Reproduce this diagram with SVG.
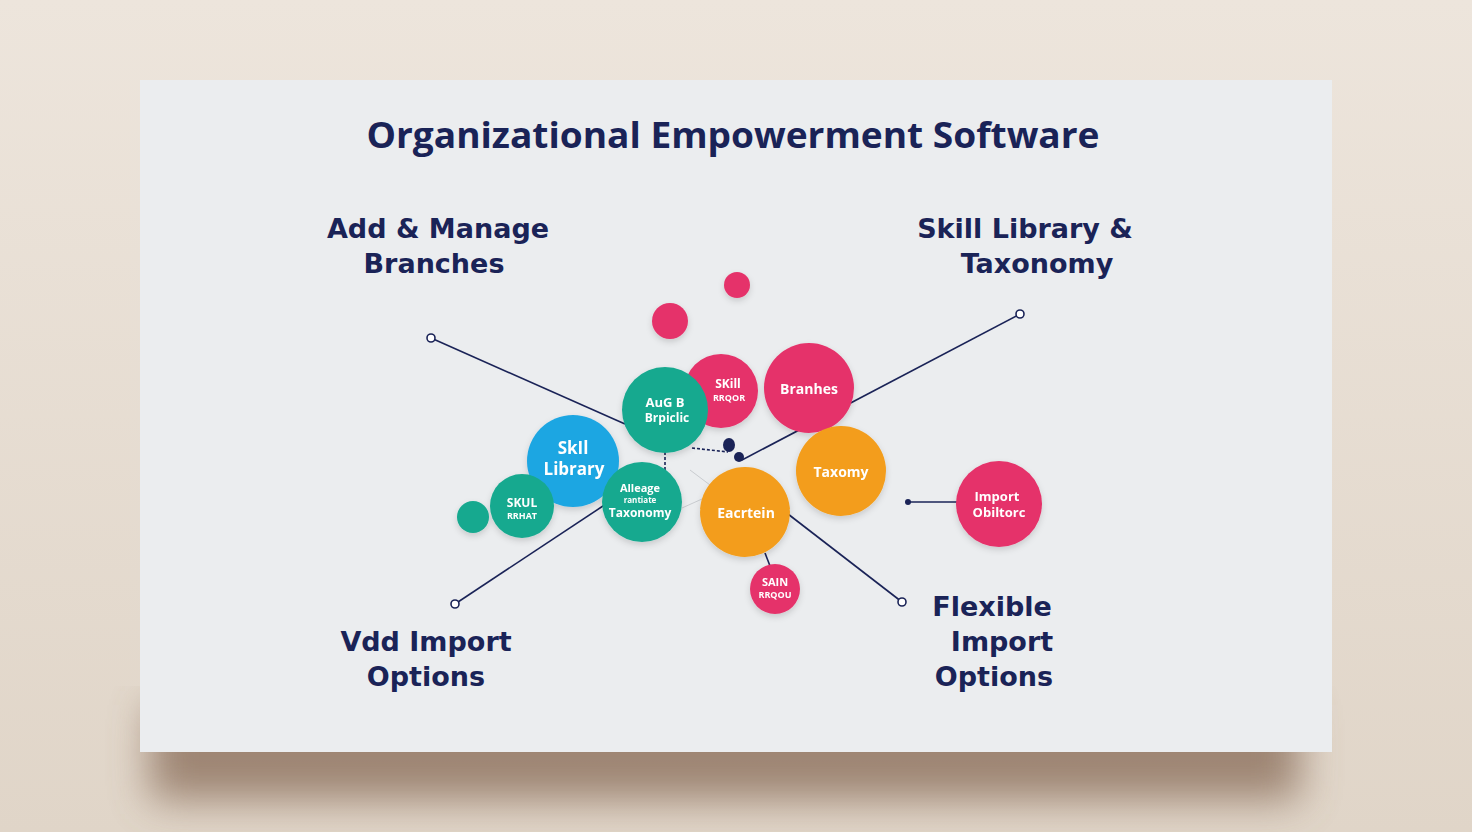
<svg xmlns="http://www.w3.org/2000/svg" width="1472" height="832" viewBox="0 0 1472 832">
<defs>
<linearGradient id="bg" x1="0" y1="0" x2="0" y2="1">
<stop offset="0" stop-color="#ede5dc"/>
<stop offset="1" stop-color="#e0d5c8"/>
</linearGradient>
<filter id="sh" x="-20%" y="-20%" width="140%" height="160%"><feGaussianBlur stdDeviation="20"/></filter>
<filter id="cs" x="-30%" y="-30%" width="160%" height="160%"><feDropShadow dx="0" dy="3" stdDeviation="3" flood-color="#000" flood-opacity="0.15"/></filter>
<style>
.ti{font-family:"Open Sans",sans-serif;font-weight:700;fill:#1a2357;text-anchor:middle}
.h{font-family:"DejaVu Sans",sans-serif;font-weight:700;fill:#1a2357;text-anchor:middle}
.t{font-family:"Open Sans",sans-serif;font-weight:700;fill:#fff;text-anchor:middle}
.ln{stroke:#1a2357;stroke-width:1.6;fill:none}
.oc{fill:#fff;stroke:#1a2357;stroke-width:1.6}
.pink{fill:#e5336a}.teal{fill:#17a98f}.blue{fill:#1fa6e2}.orange{fill:#f39d1b}
</style>
</defs>
<rect width="1472" height="832" fill="url(#bg)"/>
<rect x="150" y="705" width="1150" height="95" fill="#876b57" opacity="0.75" filter="url(#sh)"/>
<rect x="140" y="80" width="1192" height="672" fill="#ebedef"/>

<text class="ti" x="733" y="148" font-size="35" textLength="733" lengthAdjust="spacingAndGlyphs">Organizational Empowerment Software</text>
<g id="lbl-add"><text class="h" x="438" y="238" font-size="27">Add &amp; Manage</text><text class="h" x="434" y="273" font-size="27">Branches</text></g>
<g id="lbl-skill"><text class="h" x="1025" y="238" font-size="27">Skill Library &amp;</text><text class="h" x="1037" y="273" font-size="27">Taxonomy</text></g>
<g id="lbl-vdd"><text class="h" x="426" y="651" font-size="27">Vdd Import</text><text class="h" x="426" y="686" font-size="27">Options</text></g>
<g id="lbl-flex"><text class="h" x="992" y="616" font-size="27">Flexible</text><text class="h" x="1002" y="651" font-size="27">Import</text><text class="h" x="994" y="686" font-size="27">Options</text></g>

<g id="connectors">
<line class="ln" x1="431" y1="338" x2="625" y2="424"/>
<line class="ln" x1="1020" y1="314" x2="742" y2="460"/>
<line class="ln" x1="455" y1="604" x2="606" y2="504"/>
<line class="ln" x1="902" y1="602" x2="788" y2="514"/>
<line class="ln" x1="908" y1="502" x2="957" y2="502"/>
<line class="ln" x1="765" y1="553" x2="770" y2="566"/>
<line x1="682" y1="508" x2="702" y2="499" stroke="#c9ccd0" stroke-width="1"/>
<line x1="690" y1="470" x2="710" y2="485" stroke="#c9ccd0" stroke-width="1"/>
<line class="ln" x1="692" y1="448" x2="728" y2="452" stroke-dasharray="3 2"/>
<line class="ln" x1="665" y1="452" x2="665" y2="470" stroke-dasharray="3 2"/>
<circle class="oc" cx="431" cy="338" r="4"/>
<circle class="oc" cx="1020" cy="314" r="4"/>
<circle class="oc" cx="455" cy="604" r="4"/>
<circle class="oc" cx="902" cy="602" r="4"/>
<circle cx="908" cy="502" r="3" fill="#1a2357"/>
<ellipse cx="729" cy="445" rx="6" ry="7" fill="#1a2357"/>
<ellipse cx="739" cy="457" rx="5" ry="5" fill="#1a2357"/>
</g>

<g filter="url(#cs)">
<g id="dot1"><circle class="pink" cx="737" cy="285" r="13"/></g>
<g id="dot2"><circle class="pink" cx="670" cy="321" r="18"/></g>
<g id="n-skill-pink"><circle class="pink" cx="721" cy="391" r="37"/><text class="t" x="728" y="388" font-size="12">SKill</text><text class="t" x="729" y="401" font-size="9">RRQOR</text></g>
<g id="n-branhes"><circle class="pink" cx="809" cy="388" r="45"/><text class="t" x="809" y="394" font-size="14">Branhes</text></g>
<g id="n-taxomy"><circle class="orange" cx="841" cy="471" r="45"/><text class="t" x="841" y="477" font-size="14">Taxomy</text></g>
<g id="n-aug"><circle class="teal" cx="665" cy="410" r="43"/><text class="t" x="665" y="407" font-size="13">AuG B</text><text class="t" x="667" y="422" font-size="12">Brpiclic</text></g>
<g id="n-library"><circle class="blue" cx="573" cy="461" r="46"/><text class="t" x="573" y="454" font-size="17" font-weight="400">SkIl</text><text class="t" x="574" y="475" font-size="17" font-weight="400">Library</text></g>
<g id="dot3"><circle class="teal" cx="473" cy="517" r="16"/></g>
<g id="n-skul"><circle class="teal" cx="522" cy="506" r="32"/><text class="t" x="522" y="507" font-size="12" font-weight="400">SKUL</text><text class="t" x="522" y="519" font-size="9">RRHAT</text></g>
<g id="n-alleage"><circle class="teal" cx="642" cy="502" r="40"/><text class="t" x="640" y="492" font-size="11">Alleage</text><text class="t" x="640" y="503" font-size="8" font-weight="400">rantiate</text><text class="t" x="640" y="517" font-size="12">Taxonomy</text></g>
<g id="n-eacrtein"><circle class="orange" cx="745" cy="512" r="45"/><text class="t" x="746" y="518" font-size="14" font-weight="400">Eacrtein</text></g>
<g id="n-sain"><circle class="pink" cx="775" cy="589" r="25"/><text class="t" x="775" y="586" font-size="11">SAIN</text><text class="t" x="775" y="598" font-size="9">RRQOU</text></g>
<g id="n-import"><circle class="pink" cx="999" cy="504" r="43"/><text class="t" x="997" y="501" font-size="13">Import</text><text class="t" x="999" y="517" font-size="13">Obiltorc</text></g>
</g>
</svg>
